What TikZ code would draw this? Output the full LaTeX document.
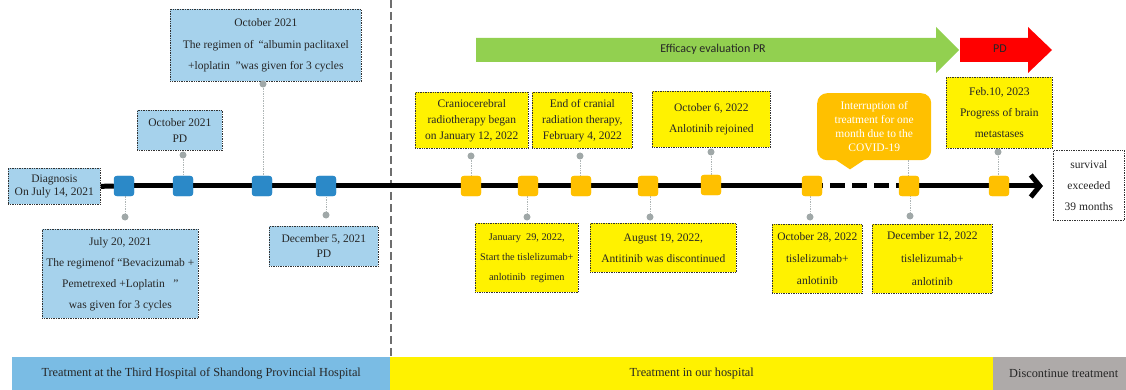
\documentclass[tikz,border=0pt]{standalone}
\usepackage{fontspec}
\setmainfont{Liberation Serif}
\newfontfamily\carlitofont{Carlito}
\usetikzlibrary{arrows.meta,calc}
\definecolor{boxblue}{RGB}{166,210,236}
\definecolor{sqblue}{RGB}{43,137,200}
\definecolor{sqorange}{RGB}{255,192,0}
\definecolor{barblue}{RGB}{122,188,228}
\definecolor{bargray}{RGB}{174,170,169}
\definecolor{arrgreen}{RGB}{146,208,80}
\definecolor{dotgray}{RGB}{160,168,168}
\definecolor{conngray}{RGB}{175,182,182}
\definecolor{vgray}{RGB}{110,110,110}
\tikzset{
  bbox/.style={draw=black!80, densely dotted, line width=0.7pt, inner sep=0pt, anchor=north west, align=center, text=black!85},
  ls/.style={font=\fontsize{11.5}{#1}\selectfont},
  bluebox/.style={bbox, fill=boxblue},
  yelbox/.style={bbox, fill=yellow},
  sqnode/.style={rounded corners=3pt, minimum size=20pt, inner sep=0pt},
  bsq/.style={sqnode, fill=sqblue},
  ysq/.style={sqnode, fill=sqorange},
  gdot/.style={circle, fill=dotgray, minimum size=7pt, inner sep=0pt},
  conn/.style={draw=conngray, densely dotted, line width=0.7pt},
  tl/.style={line width=5pt, black},
  bar/.style={anchor=north west, inner sep=0pt, font=\fontsize{12.3}{14}\selectfont, text=black!85},
}
\begin{document}
\begin{tikzpicture}[x=1pt,y=-1pt]
\useasboundingbox (0,0) rectangle (1126,390);

% vertical separator
\coordinate (vtop) at (391,0);
\coordinate (vbot) at (391,357);
\draw[vgray, line width=2pt, dash pattern=on 8pt off 4pt] (vtop) -- (vbot);

% bottom bars
\node[bar, fill=barblue, minimum width=378pt, minimum height=33pt] (bar1) at (12,357) {\raisebox{-3pt}{Treatment at the Third Hospital of Shandong Provincial Hospital}};
\node[bar, fill=yellow, minimum width=603pt, minimum height=33pt] (bar2) at (390,357) {\raisebox{-3pt}{Treatment in our hospital}};
\node[bar, fill=bargray, minimum width=133pt, minimum height=33pt] (bar3) at (993,357) {\raisebox{-3pt}{\hspace*{8pt}Discontinue treatment}};

% efficacy arrows
\fill[arrgreen] (476,38) -- (936,38) -- (936,27) -- (959,50) -- (936,73) -- (936,62) -- (476,62) -- cycle;
\fill[red] (960,38) -- (1028,38) -- (1028,27) -- (1052,50) -- (1028,73) -- (1028,62) -- (960,62) -- cycle;
\node[font=\carlitofont\fontsize{12}{14}\selectfont, text=black!85] (eff) at (713,49) {Efficacy evaluation PR};
\node[font=\carlitofont\fontsize{12}{14}\selectfont, text=black!85] (pd) at (1000,49) {PD};

% boxes
\node[bluebox, ls=13, minimum width=92pt, minimum height=36pt] (diag) at (8,168) {Diagnosis\\On July 14, 2021};
\node[bluebox, ls=21.5, minimum width=191pt, minimum height=72pt] (b3box) at (170,9) {October 2021\\The regimen of \,“albumin paclitaxel\\+loplatin \ ”was given for 3 cycles};
\node[bluebox, ls=15.5, minimum width=85pt, minimum height=40pt] (b2box) at (137,110) {October 2021\\PD};
\node[bluebox, ls=21, minimum width=156pt, minimum height=89pt] (b1box) at (42,229) {July 20, 2021\\The regimenof “Bevacizumab +\\Pemetrexed +Loplatin \ \ ”\\was given for 3 cycles};
\node[bluebox, ls=15, minimum width=109pt, minimum height=40pt] (b4box) at (269,226) {December 5, 2021\\PD};

\node[yelbox, ls=16, minimum width=113pt, minimum height=56pt] (y1box) at (415,92) {Craniocerebral\\radiotherapy began\\on January 12, 2022};
\node[yelbox, ls=16, minimum width=100pt, minimum height=56pt] (y3box) at (532,92) {End of cranial\\radiation therapy,\\February 4, 2022};
\node[yelbox, ls=21, minimum width=118pt, minimum height=56pt] (y5box) at (652,91) {October 6, 2022\\Anlotinib rejoined};
\node[yelbox, font=\fontsize{10.3}{20}\selectfont, minimum width=103pt, minimum height=69pt] (y2box) at (475,223) {January \ 29, 2022,\\Start the tislelizumab+\\anlotinib \ regimen};
\node[yelbox, ls=21, minimum width=146pt, minimum height=49pt] (y4box) at (590,223) {August 19, 2022,\\Antitinib was discontinued};
\node[yelbox, ls=22, minimum width=90pt, minimum height=69pt] (y6box) at (772,224) {October 28, 2022\\tislelizumab+\\anlotinib};
\node[yelbox, ls=23, minimum width=120pt, minimum height=69pt] (y7box) at (872,224) {December 12, 2022\\tislelizumab+\\anlotinib};
\node[yelbox, ls=21, minimum width=106pt, minimum height=71pt] (y8box) at (946,77) {Feb.10, 2023\\Progress of brain\\metastases};
\node[bbox, fill=white, ls=21, minimum width=71pt, minimum height=70pt] (surv) at (1053,150) {survival\\exceeded\\39 months};

% callout
\node[fill=sqorange, rounded corners=10pt, inner sep=0pt, anchor=north west, align=center, text=white, ls=14, minimum width=114pt, minimum height=67pt] (callout) at (817,93) {Interruption of\\treatment for one\\month due to the\\COVID-19};
\fill[sqorange] ($(callout.south west)+(18,-1)$) -- ($(callout.south west)+(33,9)$) -- ($(callout.south west)+(48,-1)$) -- cycle;

% squares
\node[bsq] (b1) at (124,186) {};
\node[bsq] (b2) at (183,186) {};
\node[bsq] (b3) at (262,186) {};
\node[bsq] (b4) at (326,186) {};
\node[ysq] (y1) at (471,186) {};
\node[ysq] (y2) at (528,186) {};
\node[ysq] (y3) at (581,186) {};
\node[ysq] (y4) at (648,186) {};
\node[ysq] (y5) at (711,185) {};
\node[ysq] (y6) at (812,186) {};
\node[ysq] (y7) at (909,186) {};
\node[ysq] (y8) at (999,186) {};
\coordinate (tip) at (1043,186);

% dots
\node[gdot] (d1) at (125,217) {};
\node[gdot] (d2) at (183,155) {};
\node[gdot] (d3) at (263,84) {};
\node[gdot] (d4) at (326,215) {};
\node[gdot] (e1) at (471,156) {};
\node[gdot] (e2) at (527,217) {};
\node[gdot] (e3) at (580,156) {};
\node[gdot] (e4) at (650,217) {};
\node[gdot] (e5) at (711,152) {};
\node[gdot] (e6) at (810,217) {};
\node[gdot] (e7) at (910,216) {};
\node[gdot] (e8) at (998,152) {};

% connectors
\begin{scope}[on background layer/.style={}]
\draw[conn] (d1) -- (d1 |- b1.south);
\draw[conn] (d2) -- (d2 |- b2.north);
\draw[conn] (d3) -- (d3 |- b3.center) -- (b3.center -| 260,0);
\draw[conn] (d4) -- (d4 |- b4.south);
\draw[conn] (e1) -- (e1 |- y1.north);
\draw[conn] (e2) -- (e2 |- y2.south);
\draw[conn] (e3) -- (e3 |- y3.north);
\draw[conn] (e4) -- (e4 |- y4.south);
\draw[conn] (e5) -- (e5 |- y5.north);
\draw[conn] (e6) -- (e6 |- y6.south);
\draw[conn] (e7) -- (e7 |- y7.south);
\draw[conn] (e8) -- (e8 |- y8.north);
\draw[conn] (y7.north -| 908,0) -- (callout.south -| 908,0);
\end{scope}

% timeline
\draw[tl] (diag.east) -- (b1.west);
\draw[tl] (b1.east) -- (b2.west);
\draw[tl] (b2.east) -- (b3.west);
\draw[tl] (b3.east) -- (b4.west);
\draw[tl] (b4.east) -- (y1.west);
\draw[tl] (y1.east) -- (y2.west);
\draw[tl] (y2.east) -- (y3.west);
\draw[tl] (y3.east) -- (y4.west);
\draw[tl] (y4.east) -- (y5.west |- y4.east);
\draw[tl] (y5.east |- y6.west) -- (y6.west);
\draw[tl, dash pattern=on 15pt off 7pt, dash phase=-8pt] (y6.east) -- (y7.west);
\draw[tl] (y7.east) -- (y8.west);
\draw[tl, line cap=round, -{Straight Barb[length=9pt,width=22pt]}] (y8.east) -- (tip);

% redraw squares on top
\foreach \n in {b1,b2,b3,b4}{\fill[sqblue, rounded corners=3pt] (\n.south west) rectangle (\n.north east);}
\foreach \n in {y1,y2,y3,y4,y5,y6,y7,y8}{\fill[sqorange, rounded corners=3pt] (\n.south west) rectangle (\n.north east);}
\end{tikzpicture}
\end{document}
